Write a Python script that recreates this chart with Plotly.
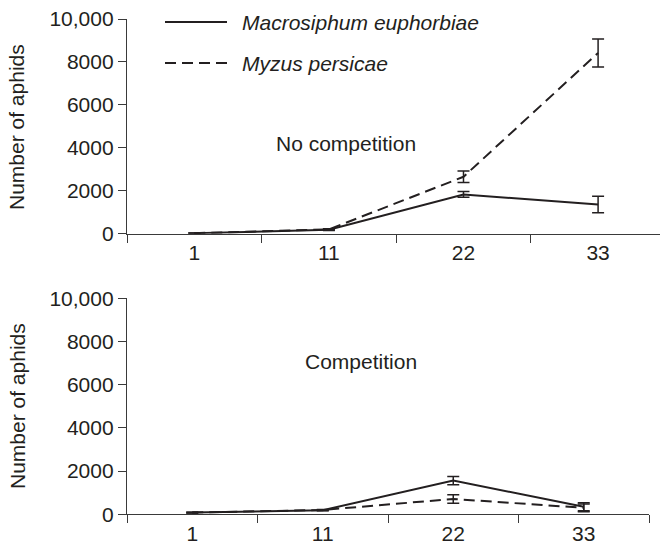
import plotly.graph_objects as go
from plotly.subplots import make_subplots

# Sampling days (categorical x axis)
days = ["1", "11", "22", "33"]

# No competition: mean counts and standard errors
macro_alone = [20, 180, 1830, 1360]
macro_alone_err = [10, 30, 130, 380]
myzus_alone = [25, 200, 2650, 8420]
myzus_alone_err = [10, 30, 270, 650]

# Competition: mean counts and standard errors
macro_comp = [80, 190, 1560, 350]
macro_comp_err = [15, 25, 190, 190]
myzus_comp = [80, 200, 710, 300]
myzus_comp_err = [15, 25, 200, 180]

y_ticks = [0, 2000, 4000, 6000, 8000, 10000]
y_ticktext = ["0", "2000", "4000", "6000", "8000", "10,000"]

INK = "#231f20"
AXIS = "#3a3a3a"
FONT = "Liberation Sans, Arial, sans-serif"
FS = 21
DASH = "11px,6px"

fig = make_subplots(rows=2, cols=1)


def add_series(row, y, err, dash):
    fig.add_trace(
        go.Scatter(
            x=days, y=y, mode="lines",
            line=dict(color=INK, width=2, dash=dash),
            error_y=dict(type="data", array=err, visible=True,
                         color=INK, thickness=1.5, width=6),
            cliponaxis=False, showlegend=False,
        ),
        row=row, col=1,
    )


add_series(1, macro_alone, macro_alone_err, "solid")
add_series(1, myzus_alone, myzus_alone_err, DASH)
add_series(2, macro_comp, macro_comp_err, "solid")
add_series(2, myzus_comp, myzus_comp_err, DASH)

W, H = 660, 543


def px_x(p):
    return p / W


def px_y(p):
    return 1 - p / H


axis_common = dict(
    showline=True, linecolor=AXIS, linewidth=1.3,
    ticks="outside", ticklen=8, tickwidth=1.3, tickcolor=AXIS,
    showgrid=False, zeroline=False, automargin=False,
    tickfont=dict(family=FONT, size=FS, color=INK),
)

fig.update_xaxes(type="category", tickson="boundaries", **axis_common)
fig.update_yaxes(range=[0, 10000], tickvals=y_ticks, ticktext=y_ticktext,
                 **axis_common)

fig.update_layout(
    xaxis=dict(domain=[px_x(127), 1.0], range=[-0.5, 3.46], anchor="y"),
    yaxis=dict(domain=[px_y(233.7), px_y(19)], anchor="x"),
    xaxis2=dict(domain=[px_x(127), px_x(649)], range=[-0.5, 3.5], anchor="y2"),
    yaxis2=dict(domain=[px_y(514.3), px_y(298.3)], anchor="x2"),
)

annotations = []
# y-axis titles
for yc in (127, 406):
    annotations.append(dict(
        text="Number of aphids", x=px_x(17), y=px_y(yc), xref="paper", yref="paper",
        textangle=-90, showarrow=False, xanchor="center", yanchor="middle",
        font=dict(family=FONT, size=FS, color=INK)))

# panel labels
annotations.append(dict(text="No competition", x=px_x(346), y=px_y(130),
                        xref="paper", yref="paper", showarrow=False,
                        font=dict(family=FONT, size=FS, color=INK)))
annotations.append(dict(text="Competition", x=px_x(361), y=px_y(375),
                        xref="paper", yref="paper", showarrow=False,
                        font=dict(family=FONT, size=FS, color=INK)))

# legend
legend_items = [("Macrosiphum euphorbiae", "solid", 22),
                ("Myzus persicae", DASH, 63)]
shapes = []
for name, dash, yc in legend_items:
    shapes.append(dict(type="line", xref="paper", yref="paper",
                       x0=px_x(165), x1=px_x(227), y0=px_y(yc), y1=px_y(yc),
                       line=dict(color=INK, width=2, dash=dash)))
    annotations.append(dict(text=f"<i>{name}</i>", x=px_x(240), y=px_y(yc),
                            xref="paper", yref="paper", showarrow=False,
                            xanchor="left", yanchor="middle",
                            font=dict(family=FONT, size=FS, color=INK)))

fig.update_layout(
    width=W, height=H,
    margin=dict(l=0, r=0, t=0, b=0),
    paper_bgcolor="white", plot_bgcolor="white",
    annotations=annotations, shapes=shapes,
    showlegend=False,
)

fig.write_html("out.html")
